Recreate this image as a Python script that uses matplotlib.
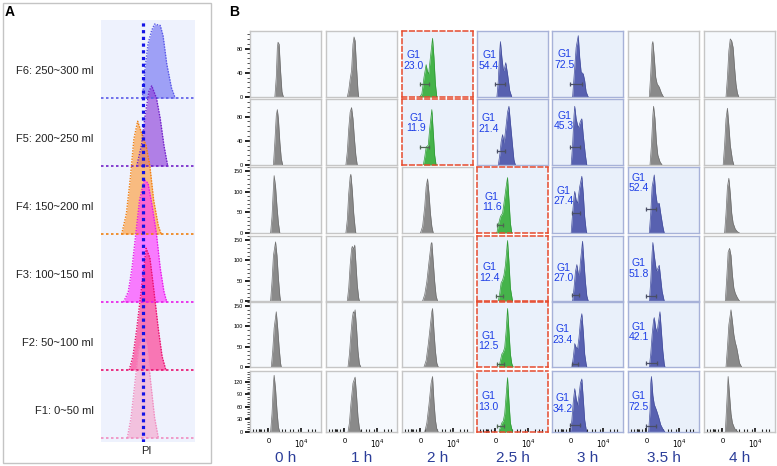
"""
Sucrose-gradient fractions (A) and PI cell-cycle histograms over time (B).
"""
import matplotlib
matplotlib.use("Agg")
import matplotlib.pyplot as plt
from matplotlib.patches import Rectangle
from matplotlib.ticker import FixedLocator, MultipleLocator

plt.rcParams['font.family'] = ['Liberation Sans', 'DejaVu Sans']

# ---------------- data ----------------
FRACTIONS = ["F1: 0~50 ml", "F2: 50~100 ml", "F3: 100~150 ml",
             "F4: 150~200 ml", "F5: 200~250 ml", "F6: 250~300 ml"]
RIDGE_COLORS = ['#f5a3cc', '#ff2a88', '#ff33ff', '#ff9a33', '#8a38d8', '#6e6ef2']
RIDGE_EDGES = ['#f08cbf', '#e8106e', '#e81ae8', '#f08010', '#7020c8', '#5a5ae8']

# PI intensity (arb. units) and density for each fraction, F1..F6
F1_PI = [28, 32, 36, 40, 45, 49, 53, 57, 61]
F1_D = [0, .3, .8, 1.3, 1.57, 1.35, .8, .3, 0]
F2_PI = [30, 34, 38, 43, 48, 52, 56, 61, 65, 69]
F2_D = [0, .2, .6, 1.2, 1.79, 1.65, 1.2, .6, .2, 0]
F3_PI = [24, 29, 33, 37, 41, 46, 50, 54, 59, 63, 67, 70]
F3_D = [0, .15, .5, 1.0, 1.5, 1.8, 1.75, 1.45, 1.0, .5, .15, 0]
F4_PI = [22, 27, 31, 35, 39, 44, 48, 52, 56, 61, 64]
F4_D = [0, .3, .8, 1.4, 1.66, 1.45, 1.3, 1.0, .5, .12, 0]
F5_PI = [38, 43, 47, 51, 54, 59, 63, 67, 71]
F5_D = [0, .3, .75, 1.1, 1.18, 1.0, .7, .3, 0]
F6_PI = [44, 47, 50, 54, 57, 63, 66, 70, 75, 79]
F6_D = [0, .45, .8, 1.0, 1.09, 1.07, .92, .5, .15, 0]
RIDGE_PI = [F1_PI, F2_PI, F3_PI, F4_PI, F5_PI, F6_PI]
RIDGE_D = [F1_D, F2_D, F3_D, F4_D, F5_D, F6_D]
PI_MARK = 45

TIMES = ['0 h', '1 h', '2 h', '2.5 h', '3 h', '3.5 h', '4 h']
ROW_YMAX = [109, 109, 160, 160, 160, 146]
ROW_YMAJOR = [[0, 40, 80], [0, 40, 80], [0, 50, 100, 150], [0, 50, 100, 150],
              [0, 50, 100, 150], [0, 30, 60, 90, 120]]
ROW_YMINOR = [8, 8, 10, 10, 10, 6]

# k = grey, g = green (G1 arrest start), b = blue
ROW_KIND = ['kkgbbkk', 'kkgbbkk', 'kkkgbbk', 'kkkgbbk', 'kkkgbbk', 'kkkgbbk']

# histograms: (PI channel, counts as fraction of axis max), rows F6 -> F1
F6_HIST = [
    ([35, 37, 38.5, 39.5, 41, 43, 45, 47], [0, .3, .75, .83, .8, .4, .08, 0]),
    ([30, 32, 34, 36, 38, 39.5, 41, 43, 45, 46], [0, .1, .27, .4, .8, .91, .85, .45, .1, 0]),
    ([25, 28, 31, 34, 36, 37.5, 40, 43, 45, 47, 49], [0, .05, .3, .49, .38, .35, .6, .89, .6, .2, 0]),
    ([28, 30, 32, 33, 35, 37, 38, 40.5, 43, 46, 49], [0, .25, .7, .84, .6, .42, .4, .52, .35, .1, 0]),
    ([29, 31, 34, 37, 39, 41, 44, 46, 48, 51], [0, .3, .75, .93, .6, .38, .35, .25, .08, 0]),
    ([30, 32, 34, 35, 37, 39, 41, 44, 47, 50], [0, .35, .8, .84, .6, .3, .2, .15, .06, 0]),
    ([31, 33, 35, 37, 39, 41, 43, 45, 47, 49], [0, .3, .7, .88, .85, .75, .45, .2, .06, 0]),
]
F5_HIST = [
    ([33, 35, 37, 38.5, 40, 42, 44, 46], [0, .35, .75, .84, .7, .35, .1, 0]),
    ([28, 30, 32, 34, 36, 38, 40, 42, 44], [0, .2, .55, .8, .87, .7, .4, .15, 0]),
    ([30, 32, 34, 37, 39, 42, 44, 46, 48], [0, .12, .27, .3, .55, .84, .5, .15, 0]),
    ([30, 32, 34, 36, 38, 40, 43, 45, 47, 50, 52, 54], [0, .15, .35, .46, .33, .5, .8, .89, .65, .3, .08, 0]),
    ([27, 29, 31, 32, 34, 37, 40, 42, 44, 47, 49], [0, .3, .75, .89, .7, .56, .66, .7, .45, .15, 0]),
    ([31, 33, 35, 36, 38, 40, 42, 45, 48], [0, .3, .75, .89, .7, .35, .15, .05, 0]),
    ([27, 29, 31, 33, 35, 37, 40, 42], [0, .3, .7, .86, .6, .3, .08, 0]),
]
F4_HIST = [
    ([29, 31, 33, 34, 36, 38, 40, 42], [0, .25, .7, .87, .7, .4, .15, 0]),
    ([28, 30, 32, 34, 35, 37, 39, 41, 42], [0, .2, .6, .85, .89, .65, .3, .08, 0]),
    ([26, 29, 32, 34, 36, 38, 40, 42, 44], [0, .1, .4, .7, .82, .6, .3, .1, 0]),
    ([28, 30, 33, 36, 38, 41, 43, 45, 47, 49], [0, .12, .25, .3, .45, .7, .84, .5, .15, 0]),
    ([27, 29, 31, 32, 34, 36, 39, 42, 44, 46, 48, 49], [0, .3, .55, .63, .5, .45, .7, .86, .6, .25, .05, 0]),
    ([30, 32, 34, 37, 39, 41, 44, 46, 49, 51], [0, .3, .7, .88, .6, .45, .45, .3, .1, 0]),
    ([29, 31, 33, 35, 37, 39, 41, 44, 47, 50], [0, .3, .7, .83, .6, .3, .15, .06, .02, 0]),
]
F3_HIST = [
    ([29, 31, 33, 36, 38, 40, 42, 43], [0, .3, .7, .91, .7, .35, .08, 0]),
    ([30, 32, 34, 36, 37, 39, 40.5, 42, 44, 46, 47], [0, .2, .55, .8, .84, .8, .86, .6, .25, .05, 0]),
    ([29, 32, 35, 38, 41, 42, 44, 46, 48, 50], [0, .1, .3, .6, .88, .9, .6, .3, .08, 0]),
    ([30, 32, 34, 36, 38, 40, 42, 43, 45, 47, 50], [0, .12, .28, .32, .4, .55, .8, .93, .6, .2, 0]),
    ([29, 31, 33, 35, 37, 38.5, 40, 43, 45, 47, 49, 51], [0, .2, .45, .56, .42, .4, .6, .92, .6, .3, .08, 0]),
    ([30, 32, 34, 35, 37, 40, 42, 44, 46, 48, 51], [0, .3, .75, .9, .7, .46, .5, .55, .35, .15, 0]),
    ([30, 32, 34, 36, 38, 40, 42, 44, 47, 50], [0, .35, .75, .81, .7, .4, .2, .12, .05, 0]),
]
F2_HIST = [
    ([30, 32, 34, 37, 39, 41, 43, 44], [0, .25, .6, .85, .6, .3, .06, 0]),
    ([31, 33, 35, 37, 38.5, 40, 41, 43, 45, 47, 49], [0, .2, .5, .75, .85, .82, .88, .6, .25, .05, 0]),
    ([31, 34, 37, 40, 42, 43, 45, 47, 49, 51], [0, .1, .35, .65, .85, .9, .55, .25, .06, 0]),
    ([31, 33, 35, 37, 39, 41, 43, 45, 47, 49, 51], [0, .1, .2, .23, .3, .55, .9, .55, .2, .05, 0]),
    ([28, 30, 31.5, 32, 34, 36, 38, 40, 42, 44, 46, 48, 49], [0, .15, .3, .36, .3, .28, .45, .7, .82, .55, .2, .05, 0]),
    ([30, 32, 34, 36, 37, 39, 41, 43, 45, 47, 49, 51, 52], [0, .2, .5, .72, .76, .6, .54, .7, .85, .55, .25, .05, 0]),
    ([31, 33, 35, 38, 40, 42, 44, 46, 48, 50, 53], [0, .3, .65, .88, .7, .5, .38, .3, .18, .06, 0]),
]
F1_HIST = [
    ([29, 31, 33, 34, 36, 38, 40, 42], [0, .3, .8, .93, .7, .35, .08, 0]),
    ([31, 33, 35, 38, 41, 43, 45, 47, 49], [0, .15, .45, .8, .9, .6, .25, .06, 0]),
    ([32, 35, 38, 41, 43, 45, 47, 49, 51], [0, .15, .45, .8, .91, .5, .2, .05, 0]),
    ([31, 33, 35, 37, 39, 41, 43, 45, 47, 50], [0, .08, .15, .18, .3, .6, .89, .5, .15, 0]),
    ([26, 28, 30, 32, 34, 36, 38, 40, 42, 44, 46, 48, 49], [0, .2, .5, .71, .55, .44, .6, .8, .87, .55, .2, .05, 0]),
    ([29, 31, 32, 33, 35, 37, 40, 43, 46, 49, 52], [0, .35, .8, .91, .6, .45, .36, .25, .12, .05, 0]),
    ([30, 32, 34, 36, 38, 40, 43, 46, 48], [0, .45, .91, .6, .3, .15, .06, .02, 0]),
]
HIST_ROWS = [F6_HIST, F5_HIST, F4_HIST, F3_HIST, F2_HIST, F1_HIST]

# G1 percentages
F6_G1 = [None, None, 23.0, 54.4, 72.5, None, None]
F5_G1 = [None, None, 11.9, 21.4, 45.3, None, None]
F4_G1 = [None, None, None, 11.6, 27.4, 52.4, None]
F3_G1 = [None, None, None, 12.4, 27.0, 51.8, None]
F2_G1 = [None, None, None, 12.5, 23.4, 42.1, None]
F1_G1 = [None, None, None, 13.0, 34.2, 72.5, None]
G1_ROWS = [F6_G1, F5_G1, F4_G1, F3_G1, F2_G1, F1_G1]

# G1 gates: (channel from, channel to, level as fraction of axis max)
F6_GATE = [None, None, (26, 38, .2), (26, 39, .2), (25, 42, .2), None, None]
F5_GATE = [None, None, (25, 38, .27), (28, 39, .21), (25, 39, .27), None, None]
F4_GATE = [None, None, None, (28, 37, .12), (28, 39, .3), (26, 40, .36), None]
F3_GATE = [None, None, None, (27, 36, .08), (28, 38, .09), (26, 40, .08), None]
F2_GATE = [None, None, None, (28, 38, .05), (28, 37, .05), (26, 41, .06), None]
F1_GATE = [None, None, None, (28, 38, .1), (25, 39, .11), (26, 40, .1), None]
GATE_ROWS = [F6_GATE, F5_GATE, F4_GATE, F3_GATE, F2_GATE, F1_GATE]

# ---------------- layout ----------------
W, H = 777, 466
COL_X0 = [250, 326, 402, 477, 552, 628, 704]
CELL_W = 71
ROW_Y0 = [31, 99, 167, 236, 302, 371]
ROW_Y1 = [97, 165, 233, 301, 367, 432]
LABEL_XY = [
    [None, None, (.16, .555), (.17, .555), (.17, .57), None, None],
    [None, None, (.2, .64), (.16, .63), (.17, .67), None, None],
    [None, None, None, (.21, .47), (.16, .56), (.15, .76), None],
    [None, None, None, (.17, .44), (.16, .43), (.15, .5), None],
    [None, None, None, (.16, .40), (.15, .5), (.15, .54), None],
    [None, None, None, (.16, .5), (.15, .47), (.15, .5), None],
]
BOTTOM_MINOR = [4.7, 8.5, 12, 12.7, 13.4, 15, 19.7, 23.5, 32.9, 40, 44.6, 49,
                56, 61, 68, 82, 87, 91.5]

KIND_FILL = {'k': '#8a8a8a', 'g': '#45b34a', 'b': '#5861b0'}
KIND_EDGE = {'k': '#6f6f6f', 'g': '#2f9a35', 'b': '#454f9e'}
KIND_FACE = {'k': '#f6f9fd', 'g': '#eaf1fb', 'b': '#e9f0fa'}
KIND_SPINE = {'k': '#c6c6c6', 'g': '#e64a2e', 'b': '#a7b2d8'}


def px_rect(x0, y0, x1, y1):
    return [x0 / W, 1 - y1 / H, (x1 - x0) / W, (y1 - y0) / H]


fig = plt.figure(figsize=(W / 100, H / 100), dpi=100)

# ---------------- panel A ----------------
fig.patches.append(Rectangle((3 / W, 1 - 463 / H), 208 / W, 460 / H,
                             transform=fig.transFigure, fill=False,
                             ec='#c4c4c4', lw=1))
fig.text(9.5 / W, 1 - 12.5 / H, 'A', fontweight='bold', fontsize=10,
         ha='center', va='center')

axA = fig.add_axes(px_rect(101, 20, 195, 442))
axA.set_facecolor('#eef2fd')
for i in range(5, -1, -1):
    pi, d = RIDGE_PI[i], RIDGE_D[i]
    axA.fill_between(pi, i, [i + v for v in d], color=RIDGE_COLORS[i],
                     alpha=0.62, lw=0, zorder=2)
    axA.plot(pi, [i + v for v in d], color=RIDGE_EDGES[i], lw=1.0,
             ls=(0, (1, 1)), zorder=3)
    axA.axhline(i, color=RIDGE_EDGES[i], lw=1.2, ls=(0, (1.5, 1.5)), zorder=3)
    axA.text(-8, i + 0.4, FRACTIONS[i], ha='right', va='center', fontsize=8,
             color='#222222', clip_on=False)
axA.axvline(PI_MARK, color='#1414e6', lw=2.3, ls=(0, (1, 1.1)), zorder=4)
axA.set_xlim(0, 100)
axA.set_ylim(-0.06, 6.15)
axA.set_xticks([])
axA.set_yticks([])
for s in axA.spines.values():
    s.set_visible(False)
fig.text(146 / W, 1 - 451 / H, 'PI', ha='center', va='center', fontsize=8,
         color='#222222')

# ---------------- panel B ----------------
fig.text(234 / W, 1 - 12 / H, 'B', fontweight='bold', fontsize=10,
         ha='center', va='center')

for r in range(6):
    ymax = ROW_YMAX[r]
    for c in range(7):
        kind = ROW_KIND[r][c]
        ax = fig.add_axes(px_rect(COL_X0[c], ROW_Y0[r],
                                  COL_X0[c] + CELL_W, ROW_Y1[r]))
        ax.set_facecolor(KIND_FACE[kind])
        hx, hy = HIST_ROWS[r][c]
        counts = [v * ymax for v in hy]
        ax.fill_between(hx, 0, counts, color=KIND_FILL[kind], lw=0, zorder=2)
        ax.plot(hx, counts, color=KIND_EDGE[kind], lw=0.5, zorder=3)
        ax.set_xlim(0, 100)
        ax.set_ylim(0, ymax)

        for s in ax.spines.values():
            s.set_color(KIND_SPINE[kind])
            s.set_linewidth(1.1 if kind == 'g' else 1.0)
            if kind == 'g':
                s.set_linestyle((0, (3, 2)))

        gate = GATE_ROWS[r][c]
        if gate is not None:
            gx0, gx1, gl = gate
            gc = '#4f6652' if kind == 'g' else '#4a4f66'
            ax.plot([gx0, gx1], [gl * ymax] * 2, color=gc, lw=0.9, zorder=4)
            ax.plot([gx0, gx1], [gl * ymax] * 2, ls='none', marker='|',
                    ms=3, mew=0.9, color=gc, zorder=4)
        val = G1_ROWS[r][c]
        if val is not None:
            lx, ly = LABEL_XY[r][c]
            ax.text(lx, ly, f'G1\n{val:.1f}', transform=ax.transAxes,
                    ha='center', va='center', fontsize=7.5, color='#1d3ee6',
                    linespacing=1.05, zorder=5)

        ax.tick_params(which='both', left=False, bottom=False,
                       labelleft=False, labelbottom=False)
        if c == 0:
            ax.yaxis.set_major_locator(FixedLocator(ROW_YMAJOR[r]))
            ax.yaxis.set_minor_locator(MultipleLocator(ROW_YMINOR[r]))
            ax.tick_params(axis='y', which='major', left=True, labelleft=True,
                           direction='out', length=3.5, width=1.3,
                           labelsize=4, pad=1.5, color='#111111')
            ax.tick_params(axis='y', which='minor', left=True,
                           direction='out', length=2, width=0.6,
                           color='#333333')
        if r == 5:
            ax.set_xticks([26, 72])
            ax.set_xticklabels(['0', '$10^4$'])
            ax.xaxis.set_minor_locator(FixedLocator(BOTTOM_MINOR))
            ax.tick_params(axis='x', which='major', bottom=True,
                           labelbottom=True, direction='in', length=3,
                           width=1.2, labelsize=5.5, pad=4, color='#111111')
            ax.tick_params(axis='x', which='minor', bottom=True,
                           direction='in', length=2, width=0.8,
                           color='#222222')

for c, t in enumerate(TIMES):
    fig.text((COL_X0[c] + CELL_W / 2) / W, 1 - 458 / H, t, ha='center',
             va='center', fontsize=11, color='#2b3d99')

fig.savefig('out.png', dpi=100)
